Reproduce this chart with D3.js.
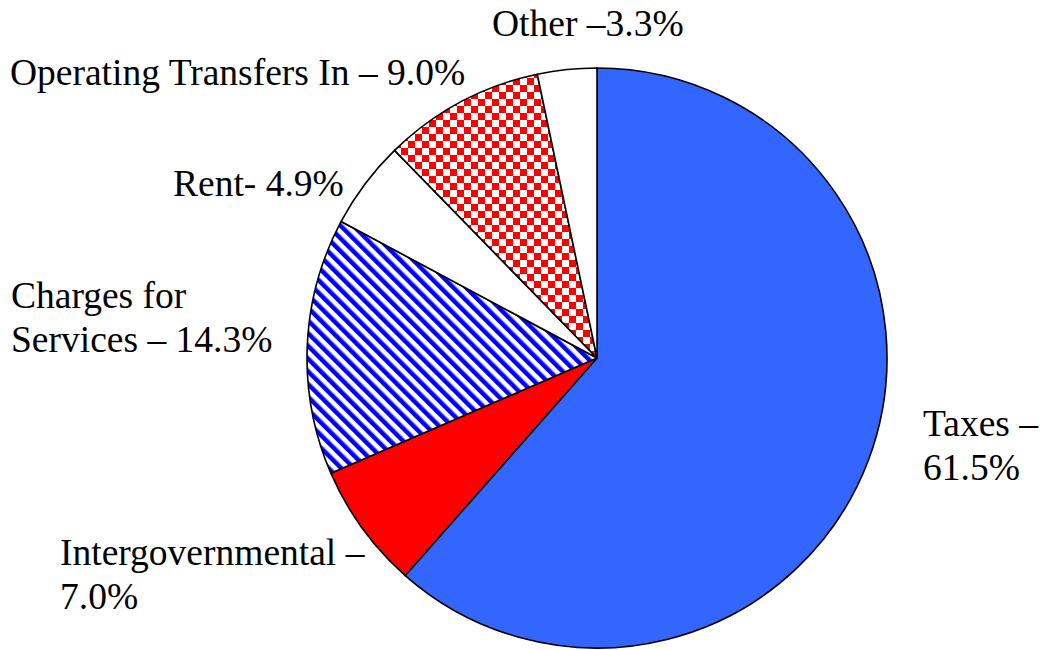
<!DOCTYPE html>
<html>
<head>
<meta charset="utf-8">
<script src="https://cdn.jsdelivr.net/npm/d3@7"></script>
<style>
  body { margin: 0; background: #fff; }
  text { font-family: "Liberation Serif", "Times New Roman", serif; font-size: 37.5px; fill: #000; }
</style>
</head>
<body>
<svg id="chart" width="1042" height="650"></svg>
<script>
// slices clockwise from 12 o'clock
const categories = ["Taxes", "Intergovernmental", "Charges for Services", "Rent", "Operating Transfers In", "Other"];
const values = [61.5, 7.0, 14.3, 4.9, 9.0, 3.3];
const fills = ["#3366ff", "#ff0000", "url(#stripes)", "#ffffff", "url(#checks)", "#ffffff"];

// label text lines, as printed on the chart
const labelLines = [
    ["Taxes \u2013", "61.5%"],
    ["Intergovernmental \u2013", "7.0%"],
    ["Charges for", "Services \u2013 14.3%"],
    ["Rent- 4.9%"],
    ["Operating Transfers In \u2013 9.0%"],
    ["Other \u20133.3%"]
];
// where each label sits (left x, first baseline)
const labelPos = [[923, 436], [60, 565], [11, 308], [173, 196], [10, 85], [492, 36]];

const cx = 597, cy = 358, radius = 290, lineH = 44;

const svg = d3.select("svg#chart");
const defs = svg.append("defs");

// blue diagonal hatch
const stripes = defs.append("pattern")
    .attr("id", "stripes")
    .attr("patternUnits", "userSpaceOnUse")
    .attr("width", 9).attr("height", 9)
    .attr("patternTransform", "rotate(-45)");
stripes.append("rect").attr("width", 9).attr("height", 9).attr("fill", "#fff");
stripes.append("rect").attr("width", 4.5).attr("height", 9).attr("fill", "#0000ff");

// red checkerboard
const checks = defs.append("pattern")
    .attr("id", "checks")
    .attr("patternUnits", "userSpaceOnUse")
    .attr("width", 14).attr("height", 14);
checks.append("rect").attr("width", 14).attr("height", 14).attr("fill", "#fff");
checks.append("rect").attr("width", 7).attr("height", 7).attr("fill", "#ff0000");
checks.append("rect").attr("x", 7).attr("y", 7).attr("width", 7).attr("height", 7).attr("fill", "#ff0000");

const pie = d3.pie().sort(null).value(d => d)(values);
const arc = d3.arc().innerRadius(0).outerRadius(radius);

svg.append("g")
    .attr("transform", `translate(${cx},${cy})`)
    .selectAll("path")
    .data(pie)
    .join("path")
    .attr("d", arc)
    .attr("fill", (d, i) => fills[i])
    .attr("stroke", "#000")
    .attr("stroke-width", 1.6)
    .attr("stroke-linejoin", "round");

const labels = svg.append("g")
    .selectAll("text")
    .data(labelLines)
    .join("text")
    .attr("x", (d, i) => labelPos[i][0])
    .attr("y", (d, i) => labelPos[i][1]);

labels.selectAll("tspan")
    .data((d, i) => d.map(t => ({ t, x: labelPos[i][0] })))
    .join("tspan")
    .attr("x", d => d.x)
    .attr("dy", (d, j) => j === 0 ? 0 : lineH)
    .text(d => d.t);
</script>
</body>
</html>
